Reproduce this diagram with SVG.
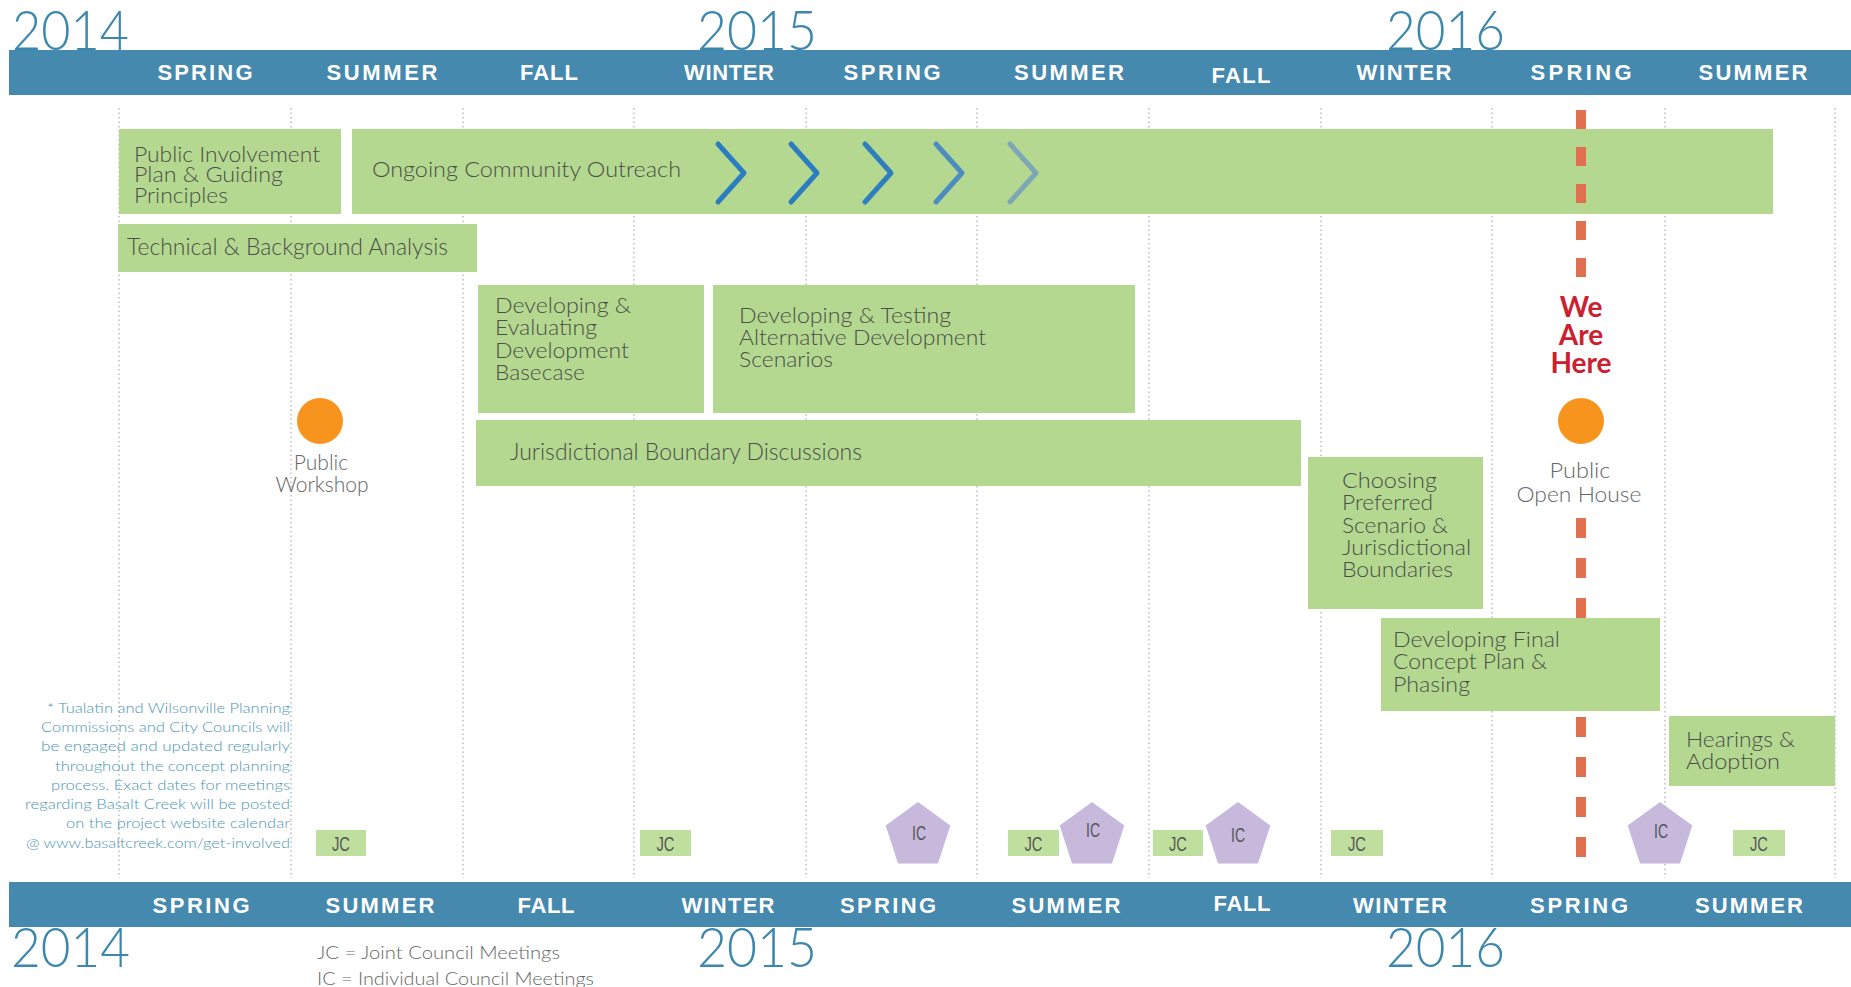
<svg xmlns="http://www.w3.org/2000/svg" width="1851" height="987" viewBox="0 0 1851 987">
<style>
.band{fill:#4689ae}
.year{font-family:Lato,"Noto Sans",sans-serif;font-weight:300;font-size:56px;fill:#3c87ac}
.season{font-family:"Liberation Sans",Arial,sans-serif;font-weight:bold;font-size:22px;fill:#fff;text-anchor:middle}
.grid{stroke:#9a9a9a;stroke-width:1;stroke-dasharray:1.5 3}
.box{fill:#b4d88f}
.lbl{font-family:Lato,"Noto Sans",sans-serif;font-weight:300;font-size:22px;fill:#4a4f4a}
.note{font-family:Lato,"Noto Sans",sans-serif;font-weight:300;font-size:13.5px;fill:#4b94b4;text-anchor:end}
.legend{font-family:Lato,"Noto Sans",sans-serif;font-weight:300;font-size:17.5px;fill:#666}
.evt{font-family:Lato,"Noto Sans",sans-serif;font-weight:300;font-size:21px;fill:#666;text-anchor:middle}
.here{font-family:Lato,"Open Sans",sans-serif;font-weight:bold;font-size:28px;fill:#cc2030;text-anchor:middle}
.jcbox{fill:#bfdf9f}
.ic{fill:#c6b9dc}
.tag{font-family:"Liberation Sans Narrow","Liberation Sans",sans-serif;font-size:20px;fill:#555;text-anchor:middle}
.dot{fill:#f7941d}
.dash{fill:#df7050}
.chev{fill:none;stroke-width:5;stroke-linecap:round;stroke-linejoin:round}
</style>
<defs>
<polygon id="pent" points="0,-34 32.3,-10.5 20,27.5 -20,27.5 -32.3,-10.5"/>
</defs>

<g id="years">
<text class="year" x="12" y="50" textLength="117" lengthAdjust="spacingAndGlyphs">2014</text>
<text class="year" x="697" y="50" textLength="120" lengthAdjust="spacingAndGlyphs">2015</text>
<text class="year" x="1386" y="50" textLength="119" lengthAdjust="spacingAndGlyphs">2016</text>
<text class="year" x="11" y="967" textLength="119" lengthAdjust="spacingAndGlyphs">2014</text>
<text class="year" x="697" y="967" textLength="120" lengthAdjust="spacingAndGlyphs">2015</text>
<text class="year" x="1386" y="967" textLength="119" lengthAdjust="spacingAndGlyphs">2016</text>
</g>

<g id="top-band">
<rect class="band" x="9" y="50" width="1842" height="45"/>
<text class="season" x="205" y="80" textLength="95" lengthAdjust="spacing">SPRING</text>
<text class="season" x="382" y="80" textLength="111" lengthAdjust="spacing">SUMMER</text>
<text class="season" x="549" y="80" textLength="58" lengthAdjust="spacing">FALL</text>
<text class="season" x="729" y="80" textLength="90" lengthAdjust="spacing">WINTER</text>
<text class="season" x="892" y="80" textLength="97" lengthAdjust="spacing">SPRING</text>
<text class="season" x="1069" y="80" textLength="110" lengthAdjust="spacing">SUMMER</text>
<text class="season" x="1241" y="83" textLength="59" lengthAdjust="spacing">FALL</text>
<text class="season" x="1404" y="80" textLength="95" lengthAdjust="spacing">WINTER</text>
<text class="season" x="1581" y="80" textLength="101" lengthAdjust="spacing">SPRING</text>
<text class="season" x="1753" y="80" textLength="109" lengthAdjust="spacing">SUMMER</text>
</g>

<g id="bottom-band">
<rect class="band" x="9" y="882" width="1842" height="45"/>
<text class="season" x="201" y="913" textLength="97" lengthAdjust="spacing">SPRING</text>
<text class="season" x="380" y="913" textLength="109" lengthAdjust="spacing">SUMMER</text>
<text class="season" x="546" y="913" textLength="57" lengthAdjust="spacing">FALL</text>
<text class="season" x="728" y="913" textLength="93" lengthAdjust="spacing">WINTER</text>
<text class="season" x="888" y="913" textLength="96" lengthAdjust="spacing">SPRING</text>
<text class="season" x="1066" y="913" textLength="109" lengthAdjust="spacing">SUMMER</text>
<text class="season" x="1242" y="911" textLength="57" lengthAdjust="spacing">FALL</text>
<text class="season" x="1400" y="913" textLength="94" lengthAdjust="spacing">WINTER</text>
<text class="season" x="1579" y="913" textLength="98" lengthAdjust="spacing">SPRING</text>
<text class="season" x="1749" y="913" textLength="108" lengthAdjust="spacing">SUMMER</text>
</g>

<g id="grid">
<line class="grid" x1="119" y1="108" x2="119" y2="878"/>
<line class="grid" x1="291" y1="108" x2="291" y2="878"/>
<line class="grid" x1="463" y1="108" x2="463" y2="878"/>
<line class="grid" x1="634" y1="108" x2="634" y2="878"/>
<line class="grid" x1="806" y1="108" x2="806" y2="878"/>
<line class="grid" x1="977" y1="108" x2="977" y2="878"/>
<line class="grid" x1="1149" y1="108" x2="1149" y2="878"/>
<line class="grid" x1="1321" y1="108" x2="1321" y2="878"/>
<line class="grid" x1="1492" y1="108" x2="1492" y2="878"/>
<line class="grid" x1="1665" y1="108" x2="1665" y2="878"/>
<line class="grid" x1="1835" y1="108" x2="1835" y2="878"/>
</g>

<g id="public-involvement">
<rect class="box" x="119" y="129" width="222" height="85"/>
<text class="lbl" style="font-size:21px" x="134" y="162" textLength="186" lengthAdjust="spacingAndGlyphs">Public Involvement</text>
<text class="lbl" style="font-size:21px" x="134" y="182" textLength="149" lengthAdjust="spacingAndGlyphs">Plan &amp; Guiding</text>
<text class="lbl" style="font-size:21px" x="134" y="203" textLength="94" lengthAdjust="spacingAndGlyphs">Principles</text>
</g>

<g id="ongoing-outreach">
<rect class="box" x="352" y="129" width="1421" height="85"/>
<text class="lbl" x="372" y="177" textLength="309" lengthAdjust="spacingAndGlyphs">Ongoing Community Outreach</text>
<path class="chev" stroke="#2a7dc0" d="M718,144 L744,173 L718,202"/>
<path class="chev" stroke="#2a7dc0" d="M791,144 L817,173 L791,202"/>
<path class="chev" stroke="#2e7fc0" d="M865,144 L891,173 L865,202"/>
<path class="chev" stroke="#4d8cc0" d="M936,144 L962,173 L936,202"/>
<path class="chev" stroke="#7ea7b6" d="M1010,144 L1036,173 L1010,202"/>
</g>

<g id="technical-analysis">
<rect class="box" x="118" y="224" width="359" height="48"/>
<text class="lbl" style="font-size:23px" x="127" y="255" textLength="321" lengthAdjust="spacingAndGlyphs">Technical &amp; Background Analysis</text>
</g>

<g id="developing-evaluating">
<rect class="box" x="478" y="285" width="226" height="128"/>
<text class="lbl" x="495" y="313" textLength="136" lengthAdjust="spacingAndGlyphs">Developing &amp;</text>
<text class="lbl" x="495" y="335" textLength="102" lengthAdjust="spacingAndGlyphs">Evaluating</text>
<text class="lbl" x="495" y="358" textLength="134" lengthAdjust="spacingAndGlyphs">Development</text>
<text class="lbl" x="495" y="380" textLength="90" lengthAdjust="spacingAndGlyphs">Basecase</text>
</g>

<g id="developing-testing">
<rect class="box" x="713" y="285" width="422" height="128"/>
<text class="lbl" x="739" y="323" textLength="212" lengthAdjust="spacingAndGlyphs">Developing &amp; Testing</text>
<text class="lbl" x="739" y="345" textLength="247" lengthAdjust="spacingAndGlyphs">Alternative Development</text>
<text class="lbl" x="739" y="367" textLength="94" lengthAdjust="spacingAndGlyphs">Scenarios</text>
</g>

<g id="jurisdictional-discussions">
<rect class="box" x="476" y="420" width="825" height="66"/>
<text class="lbl" style="font-size:23px" x="510" y="460" textLength="352" lengthAdjust="spacingAndGlyphs">Jurisdictional Boundary Discussions</text>
</g>

<g id="choosing-preferred">
<rect class="box" x="1308" y="457" width="175" height="152"/>
<text class="lbl" x="1342" y="488" textLength="95" lengthAdjust="spacingAndGlyphs">Choosing</text>
<text class="lbl" x="1342" y="510" textLength="91" lengthAdjust="spacingAndGlyphs">Preferred</text>
<text class="lbl" x="1342" y="533" textLength="106" lengthAdjust="spacingAndGlyphs">Scenario &amp;</text>
<text class="lbl" x="1342" y="555" textLength="129" lengthAdjust="spacingAndGlyphs">Jurisdictional</text>
<text class="lbl" x="1342" y="577" textLength="111" lengthAdjust="spacingAndGlyphs">Boundaries</text>
</g>

<g id="we-are-here">
<rect class="dash" x="1576" y="110" width="10" height="19"/>
<rect class="dash" x="1576" y="147" width="10" height="19"/>
<rect class="dash" x="1576" y="184" width="10" height="19"/>
<rect class="dash" x="1576" y="221" width="10" height="19"/>
<rect class="dash" x="1576" y="258" width="10" height="19"/>
<rect class="dash" x="1576" y="518" width="10" height="20"/>
<rect class="dash" x="1576" y="558" width="10" height="20"/>
<rect class="dash" x="1576" y="598" width="10" height="20"/>
<rect class="dash" x="1576" y="717" width="10" height="20"/>
<rect class="dash" x="1576" y="757" width="10" height="20"/>
<rect class="dash" x="1576" y="797" width="10" height="20"/>
<rect class="dash" x="1576" y="837" width="10" height="20"/>
<text class="here" x="1581" y="317">We</text>
<text class="here" x="1581" y="345">Are</text>
<text class="here" x="1581" y="373">Here</text>
</g>

<g id="developing-final">
<rect class="box" x="1381" y="618" width="279" height="93"/>
<text class="lbl" x="1393" y="647" textLength="167" lengthAdjust="spacingAndGlyphs">Developing Final</text>
<text class="lbl" x="1393" y="669" textLength="154" lengthAdjust="spacingAndGlyphs">Concept Plan &amp;</text>
<text class="lbl" x="1393" y="692" textLength="77" lengthAdjust="spacingAndGlyphs">Phasing</text>
</g>

<g id="hearings-adoption">
<rect class="box" x="1669" y="716" width="166" height="70"/>
<text class="lbl" x="1686" y="747" textLength="109" lengthAdjust="spacingAndGlyphs">Hearings &amp;</text>
<text class="lbl" x="1686" y="769" textLength="94" lengthAdjust="spacingAndGlyphs">Adoption</text>
</g>

<g id="public-workshop">
<circle class="dot" cx="320" cy="421" r="23"/>
<text class="evt" x="321" y="470">Public</text>
<text class="evt" x="322" y="492">Workshop</text>
</g>

<g id="public-open-house">
<circle class="dot" cx="1581" cy="421" r="23"/>
<text class="evt" x="1580" y="478" textLength="61" lengthAdjust="spacingAndGlyphs">Public</text>
<text class="evt" x="1579" y="502" textLength="125" lengthAdjust="spacingAndGlyphs">Open House</text>
</g>

<g id="footnote">
<text class="note" x="290" y="713" textLength="243" lengthAdjust="spacingAndGlyphs">* Tualatin and Wilsonville Planning</text>
<text class="note" x="290" y="732" textLength="249" lengthAdjust="spacingAndGlyphs">Commissions and City Councils will</text>
<text class="note" x="290" y="751" textLength="249" lengthAdjust="spacingAndGlyphs">be engaged and updated regularly</text>
<text class="note" x="290" y="771" textLength="235" lengthAdjust="spacingAndGlyphs">throughout the concept planning</text>
<text class="note" x="290" y="790" textLength="239" lengthAdjust="spacingAndGlyphs">process. Exact dates for meetings</text>
<text class="note" x="290" y="809" textLength="265" lengthAdjust="spacingAndGlyphs">regarding Basalt Creek will be posted</text>
<text class="note" x="290" y="828" textLength="224" lengthAdjust="spacingAndGlyphs">on the project website calendar</text>
<text class="note" x="290" y="848" textLength="264" lengthAdjust="spacingAndGlyphs">@ www.basaltcreek.com/get-involved</text>
</g>

<g id="jc-meetings">
<rect class="jcbox" x="316" y="830" width="50" height="26"/>
<text class="tag" x="341" y="851" textLength="18" lengthAdjust="spacingAndGlyphs">JC</text>
<rect class="jcbox" x="640" y="830" width="51" height="26"/>
<text class="tag" x="665.5" y="851" textLength="18" lengthAdjust="spacingAndGlyphs">JC</text>
<rect class="jcbox" x="1008" y="830" width="51" height="26"/>
<text class="tag" x="1033.5" y="851" textLength="18" lengthAdjust="spacingAndGlyphs">JC</text>
<rect class="jcbox" x="1153" y="830" width="50" height="26"/>
<text class="tag" x="1178" y="851" textLength="18" lengthAdjust="spacingAndGlyphs">JC</text>
<rect class="jcbox" x="1331" y="830" width="52" height="26"/>
<text class="tag" x="1357" y="851" textLength="18" lengthAdjust="spacingAndGlyphs">JC</text>
<rect class="jcbox" x="1733" y="830" width="52" height="26"/>
<text class="tag" x="1759" y="851" textLength="18" lengthAdjust="spacingAndGlyphs">JC</text>
</g>

<g id="ic-meetings">
<use href="#pent" class="ic" x="918" y="836"/>
<text class="tag" x="919" y="840" textLength="14" lengthAdjust="spacingAndGlyphs">IC</text>
<use href="#pent" class="ic" x="1092" y="836"/>
<text class="tag" x="1093" y="837" textLength="14" lengthAdjust="spacingAndGlyphs">IC</text>
<use href="#pent" class="ic" x="1238" y="836"/>
<text class="tag" x="1238" y="842" textLength="14" lengthAdjust="spacingAndGlyphs">IC</text>
<use href="#pent" class="ic" x="1660" y="836"/>
<text class="tag" x="1661" y="838" textLength="14" lengthAdjust="spacingAndGlyphs">IC</text>
</g>

<g id="legend">
<text class="legend" x="317" y="959" textLength="243" lengthAdjust="spacingAndGlyphs">JC = Joint Council Meetings</text>
<text class="legend" x="317" y="985" textLength="277" lengthAdjust="spacingAndGlyphs">IC = Individual Council Meetings</text>
</g>
</svg>
